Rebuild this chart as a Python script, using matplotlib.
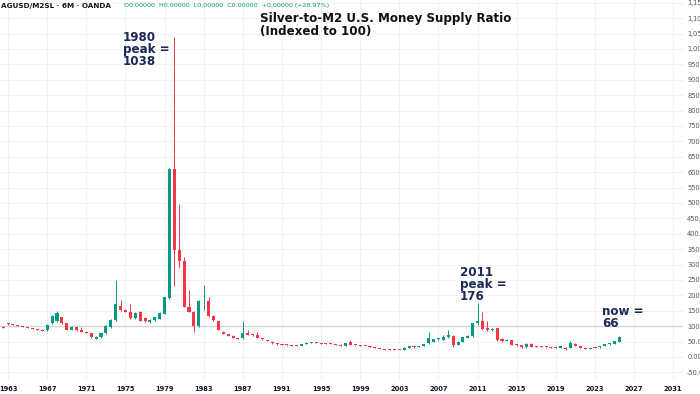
# -*- coding: utf-8 -*-
# Silver-to-M2 money supply ratio, 6M candles, indexed to 100
import numpy as np
import pandas as pd
import matplotlib
matplotlib.use('Agg')
import matplotlib.pyplot as plt
import matplotlib.dates as mdates

# half-year candles, first one starts July 1962
first_period = '1962-07-01'

opens = [98, 108, 106, 103, 100, 97, 94, 91, 88,
         86, 109, 115, 128, 109, 88, 98, 88, 82, 77,
         59, 64, 77, 96, 120, 166, 153, 147, 126, 147,
         126, 113, 120, 123, 140, 191, 610, 347, 313, 163,
         147, 99, 180, 180, 133, 115, 82, 75, 69, 60,
         61, 79, 72, 72, 60, 55, 50, 44, 40, 39,
         38, 37, 36, 42, 46, 47, 45, 43, 44, 42,
         40, 37, 47, 39, 38, 36, 35, 32, 29, 26,
         24, 24, 23, 23, 30, 34, 32, 36, 44, 50,
         57, 55, 64, 68, 40, 50, 63, 68, 109, 118,
         93, 86, 93, 58, 53, 55, 40, 38, 31, 42,
         34, 34, 32, 31, 31, 30, 30, 30, 42, 36,
         30, 27, 31, 31, 36, 41, 42, 50]
highs = [99, 109, 107, 104, 101, 98, 95, 92, 89,
         106, 136, 150, 130, 111, 100, 101, 96, 84, 78,
         67, 78, 103, 123, 250, 185, 155, 171, 146, 150,
         128, 122, 131, 145, 196, 612, 1038, 495, 326, 217,
         150, 185, 234, 194, 135, 117, 84, 76, 70, 61,
         115, 88, 74, 82, 61, 56, 51, 45, 41, 40,
         39, 38, 43, 47, 49, 48, 46, 44, 45, 43,
         41, 45, 55, 40, 39, 37, 36, 33, 30, 27,
         25, 25, 24, 31, 36, 35, 37, 43, 82, 58,
         60, 72, 88, 70, 51, 65, 70, 110, 176, 147,
         118, 93, 95, 62, 57, 56, 41, 39, 44, 45,
         36, 35, 33, 32, 32, 35, 32, 52, 45, 37,
         31, 30, 33, 34, 42, 45, 53, 67]
lows = [93, 105, 102, 99, 96, 93, 90, 87, 84,
        85, 108, 114, 107, 86, 87, 85, 81, 78, 63,
        58, 63, 76, 95, 118, 150, 145, 124, 124, 115,
        113, 111, 118, 122, 138, 188, 230, 288, 161, 145,
        82, 97, 152, 131, 118, 86, 73, 68, 60, 57,
        59, 71, 69, 62, 56, 51, 43, 40, 38, 37,
        36, 35, 35, 41, 45, 45, 42, 41, 41, 39,
        36, 36, 38, 37, 35, 34, 31, 28, 25, 23,
        22, 22, 21, 22, 29, 30, 31, 35, 43, 48,
        55, 54, 62, 31, 38, 48, 60, 66, 105, 88,
        84, 84, 53, 50, 52, 38, 37, 30, 30, 32,
        32, 32, 30, 29, 29, 29, 22, 29, 35, 29,
        25, 25, 29, 30, 35, 39, 41, 49]
closes = [94, 106, 103, 100, 97, 94, 91, 88, 85,
          104, 133, 144, 109, 88, 98, 86, 82, 79, 64,
          66, 77, 101, 120, 171, 153, 147, 126, 144, 117,
          115, 120, 129, 142, 194, 610, 347, 313, 163, 147,
          99, 182, 183, 133, 120, 88, 75, 69, 61, 58,
          79, 72, 70, 63, 57, 52, 44, 41, 39, 38,
          37, 36, 42, 46, 47, 46, 43, 42, 42, 40,
          37, 44, 39, 38, 36, 35, 32, 29, 26, 24,
          23, 23, 22, 30, 34, 32, 36, 42, 61, 57,
          58, 66, 71, 39, 50, 64, 68, 109, 118, 90,
          86, 91, 55, 52, 55, 39, 38, 31, 42, 33,
          33, 33, 31, 30, 30, 34, 25, 44, 36, 30,
          26, 29, 30, 33, 41, 44, 52, 66]

year_ticks = list(range(1963, 2032, 4))
price_ticks = list(range(-50, 1151, 50))

# ---------------------------------------------------------------------------
dates = pd.date_range(first_period, periods=len(closes), freq='6MS')
o = np.array(opens, dtype=float)
h = np.array(highs, dtype=float)
l = np.array(lows, dtype=float)
c = np.array(closes, dtype=float)

up_col = '#089981'
dn_col = '#f23645'
cols = [up_col if cc >= oo else dn_col for oo, cc in zip(o, c)]

fig = plt.figure(figsize=(7, 3.94), dpi=100)
ax = fig.add_axes([0, 14/394, 683/700, 380/394])

ax.grid(True, color='#f0f2f6', lw=0.8)
ax.set_axisbelow(True)
ax.axhline(100, color='#d2d4d8', lw=0.9, zorder=1)

ax.vlines(dates, l, h, colors=cols, lw=0.7, zorder=2)
body_bot = np.minimum(o, c)
body_h = np.maximum(np.abs(c - o), 3)
ax.bar(dates, body_h, bottom=body_bot, width=115, color=cols, zorder=3)

ax.set_xlim(pd.Timestamp('1962-03-05'), pd.Timestamp('2032-01-01'))
ax.set_ylim(-75, 1159)

for s in ax.spines.values():
    s.set_visible(False)

ax.set_xticks([pd.Timestamp(f'{y}-01-01') for y in year_ticks])
ax.xaxis.set_major_formatter(mdates.DateFormatter('%Y'))
ax.tick_params(axis='x', length=0, pad=4, labelsize=4.8, labelcolor='#131722')
for lab in ax.get_xticklabels():
    lab.set_fontweight('bold')

ax.yaxis.tick_right()
ax.set_yticks(price_ticks)
ax.set_yticklabels([f'{v:,.2f}' for v in price_ticks])
ax.tick_params(axis='y', length=0, pad=3, labelsize=4.8, labelcolor='#50535e')

# header line
fig.text(1/700, 1 - 6/394, 'AGUSD/M2SL · 6M · OANDA', fontsize=5.2,
         fontweight='bold', color='#131722', va='center')
fig.text(124/700, 1 - 6/394,
         'O0.00000  H0.00000  L0.00000  C0.00000  +0.00000 (+28.97%)',
         fontsize=4.6, color='#089981', va='center')

fig.text(260/700, 1 - 12/394, 'Silver-to-M2 U.S. Money Supply Ratio\n(Indexed to 100)',
         fontsize=8.6, fontweight='bold', color='#111111', va='top', linespacing=0.95)

navy = '#1b2858'
fig.text(123/700, 1 - 31/394, '1980\npeak =\n1038', fontsize=8.6, fontweight='bold',
         color=navy, va='top', linespacing=0.9)
fig.text(460/700, 1 - 266/394, '2011\npeak =\n176', fontsize=8.6, fontweight='bold',
         color=navy, va='top', linespacing=0.9)
fig.text(602/700, 1 - 305/394, 'now =\n66', fontsize=8.6, fontweight='bold',
         color=navy, va='top', linespacing=0.9)

fig.savefig('out.png', dpi=100)
